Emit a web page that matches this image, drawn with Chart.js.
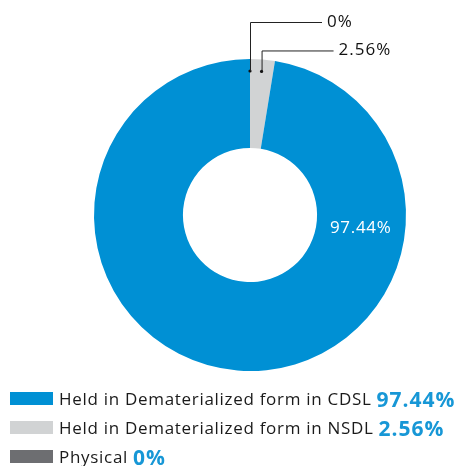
<!DOCTYPE html>
<html>
<head>
<meta charset="utf-8">
<script src="https://cdn.jsdelivr.net/npm/chart.js@4"></script>
<style>
  html, body { margin: 0; padding: 0; background: #fff; }
  #wrap { position: relative; width: 458px; height: 466px; }
  #legend { position: absolute; left: 10px; top: 384px; font-family: "Open Sans", sans-serif; color: #1a1a1a; }
  .row { display: flex; align-items: center; height: 29px; white-space: nowrap; }
  .sw { width: 43px; height: 13px; margin-right: 6px; }
  .lbl { font-size: 17px; letter-spacing: 0.7px; }
  .pct { font-size: 21px; font-weight: bold; color: #1797d6; margin-left: 5px; letter-spacing: 1px; }
</style>
</head>
<body>
<div id="wrap">
  <canvas id="holding" width="458" height="466"></canvas>
  <div id="legend"></div>
</div>
<script>
// holding pattern
var categories = ['Held in Dematerialized form in CDSL', 'Held in Dematerialized form in NSDL', 'Physical'];
var values = [97.44, 2.56, 0];
var valueLabels = ['97.44%', '2.56%', '0%'];
var colors = ['#0090d4', '#d1d3d4', '#6d6e71'];

// ring goes clockwise from the top: Physical, NSDL, then CDSL
var order = [2, 1, 0];

var legendEl = document.getElementById('legend');
categories.forEach(function(name, i) {
  var row = document.createElement('div');
  row.className = 'row';
  row.innerHTML = '<span class="sw" style="background:' + colors[i] + '"></span>' +
    '<span class="lbl">' + name + '</span><span class="pct">' + valueLabels[i] + '</span>';
  legendEl.appendChild(row);
});

var leaderPlugin = {
  id: 'leaders',
  afterDatasetsDraw: function(chart) {
    var ctx = chart.ctx;
    var arcs = chart.getDatasetMeta(0).data;
    // outside labels for Physical (pos 0) and NSDL (pos 1)
    var rise = [49, 21];
    ctx.save();
    ctx.strokeStyle = '#222';
    ctx.fillStyle = '#111';
    ctx.lineWidth = 1;
    ctx.font = '17px "Open Sans", sans-serif';
    ctx.letterSpacing = '1px';
    ctx.textBaseline = 'middle';
    for (var p = 0; p < 2; p++) {
      var a = arcs[p];
      var mid = (a.startAngle + a.endAngle) / 2;
      var r = a.outerRadius - 12;
      var x = a.x + Math.cos(mid) * r;
      var y = a.y + Math.sin(mid) * r;
      var ty = y - rise[p];
      ctx.beginPath();
      ctx.arc(x, y, 1.6, 0, Math.PI * 2);
      ctx.fill();
      ctx.beginPath();
      ctx.moveTo(x + 0.5, y);
      ctx.lineTo(x + 0.5, ty + 0.5);
      ctx.lineTo(x + 72, ty + 0.5);
      ctx.stroke();
      ctx.fillText(valueLabels[order[p]], x + 77, ty);
    }
    // value inside the big slice, on the right side of the ring
    var big = arcs[2];
    var ang = -Math.PI / 2 + 97 * Math.PI / 180;
    var rm = (big.innerRadius + big.outerRadius) / 2;
    ctx.fillStyle = '#fff';
    ctx.font = '17px "Open Sans", sans-serif';
    ctx.letterSpacing = '0.7px';
    ctx.textAlign = 'center';
    ctx.fillText(valueLabels[0], big.x + Math.cos(ang) * rm, big.y + Math.sin(ang) * rm);
    ctx.restore();
  }
};

new Chart(document.getElementById('holding'), {
  type: 'doughnut',
  data: {
    labels: order.map(function(i) { return categories[i]; }),
    datasets: [{
      data: order.map(function(i) { return values[i]; }),
      backgroundColor: order.map(function(i) { return colors[i]; }),
      borderWidth: 0
    }]
  },
  options: {
    responsive: false,
    animation: false,
    cutout: '43%',
    layout: { padding: { top: 59, bottom: 95, left: 94, right: 52 } },
    plugins: {
      legend: { display: false },
      tooltip: { enabled: false }
    }
  },
  plugins: [leaderPlugin]
});
</script>
</body>
</html>
